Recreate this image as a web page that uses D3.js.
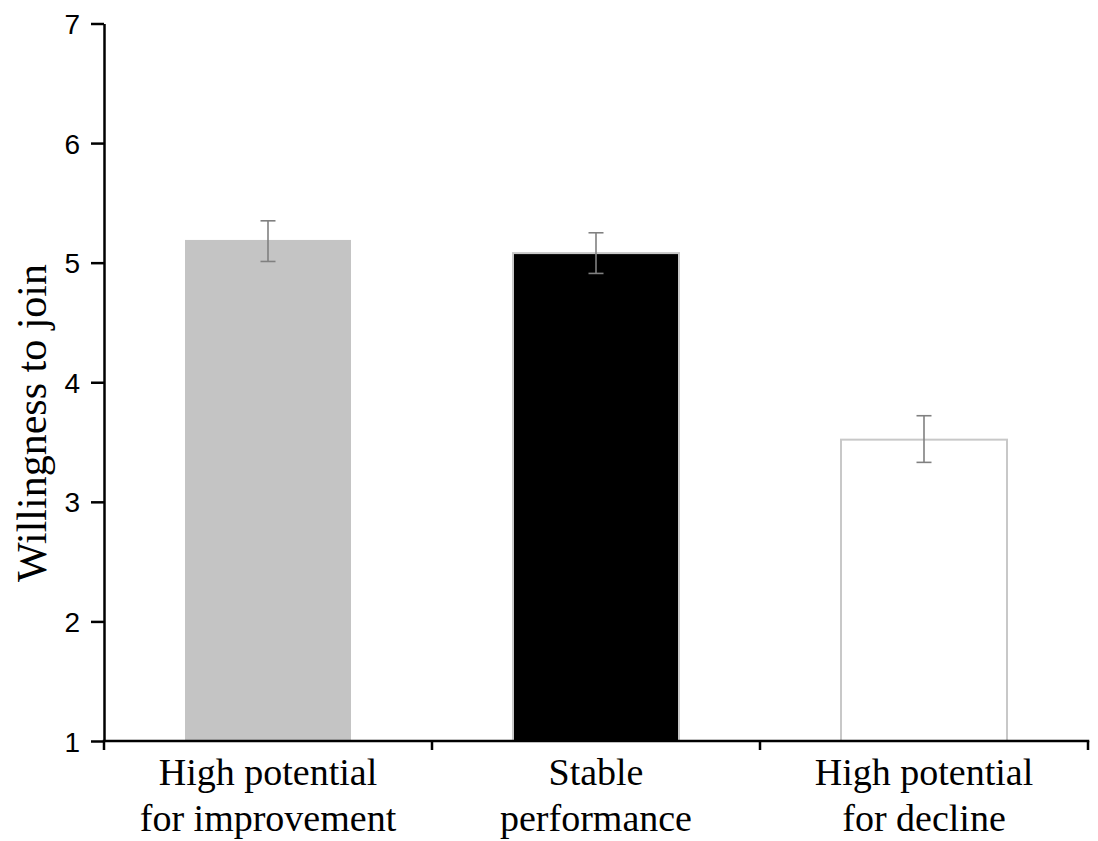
<!DOCTYPE html>
<html>
<head>
<meta charset="utf-8">
<script src="https://cdn.jsdelivr.net/npm/d3@7"></script>
<style>
  body { margin: 0; background: #fff; }
</style>
</head>
<body>
<div id="chart"></div>
<script>
// data
const categories = ["High potential|for improvement", "Stable|performance", "High potential|for decline"];
const means = [5.19, 5.08, 3.52];
const errLow = [5.01, 4.91, 3.33];
const errHigh = [5.35, 5.25, 3.72];
const barFills = ["#c4c4c4", "#000000", "#ffffff"];
const barStrokes = ["none", "#c8c8c8", "#c8c8c8"];
const yTicks = [1, 2, 3, 4, 5, 6, 7];

const width = 1098;
const height = 841;

const svg = d3.select("#chart")
    .append("svg")
    .attr("width", width)
    .attr("height", height);

const x = d3.scaleBand()
    .domain(categories)
    .range([104, 1088])
    .paddingInner(0)
    .paddingOuter(0);

const y = d3.scaleLinear()
    .domain([1, 7])
    .range([741, 23.5]);

const barW = 166;

// bars
svg.selectAll("rect.bar")
    .data(categories)
    .enter().append("rect")
    .attr("class", "bar")
    .attr("x", (d) => x(d) + x.bandwidth() / 2 - barW / 2)
    .attr("y", (d, i) => y(means[i]))
    .attr("width", barW)
    .attr("height", (d, i) => y(1) - y(means[i]))
    .style("fill", (d, i) => barFills[i])
    .style("stroke", (d, i) => barStrokes[i])
    .style("stroke-width", 2);

// error bars
const capW = 15;
const eb = svg.selectAll("g.err")
    .data(categories)
    .enter().append("g")
    .attr("class", "err")
    .style("stroke", "#808080")
    .style("stroke-width", 1.6);
eb.append("line")
    .attr("x1", (d) => x(d) + x.bandwidth() / 2)
    .attr("x2", (d) => x(d) + x.bandwidth() / 2)
    .attr("y1", (d, i) => y(errLow[i]))
    .attr("y2", (d, i) => y(errHigh[i]));
eb.append("line")
    .attr("x1", (d) => x(d) + x.bandwidth() / 2 - capW / 2)
    .attr("x2", (d) => x(d) + x.bandwidth() / 2 + capW / 2)
    .attr("y1", (d, i) => y(errHigh[i]))
    .attr("y2", (d, i) => y(errHigh[i]));
eb.append("line")
    .attr("x1", (d) => x(d) + x.bandwidth() / 2 - capW / 2)
    .attr("x2", (d) => x(d) + x.bandwidth() / 2 + capW / 2)
    .attr("y1", (d, i) => y(errLow[i]))
    .attr("y2", (d, i) => y(errLow[i]));

// y axis
const yAxis = svg.append("g")
    .attr("transform", "translate(104,0)")
    .call(d3.axisLeft(y).tickValues(yTicks).tickSize(13).tickSizeOuter(0).tickPadding(11).tickFormat(d3.format("d")));
yAxis.attr("font-size", 28).attr("font-family", "Arial, 'Liberation Sans', sans-serif");
yAxis.select(".domain").attr("stroke", "#000").attr("stroke-width", 2.5);
yAxis.selectAll(".tick line").attr("stroke", "#000").attr("stroke-width", 2.5);
yAxis.selectAll(".tick text")
    .attr("font-size", 28)
    .attr("dy", "0.36em")
    .attr("fill", "#000");

// x axis: ticks at band edges
const xEdges = categories.map((d) => x(d)).concat([x(categories[categories.length - 1]) + x.bandwidth()]);
const xAxisG = svg.append("g").attr("transform", "translate(0,741)");
xAxisG.append("line")
    .attr("x1", 104 - 1.25).attr("x2", 1088 + 1.25)
    .attr("y1", 0).attr("y2", 0)
    .attr("stroke", "#000").attr("stroke-width", 2.5);
xAxisG.selectAll("line.xt")
    .data(xEdges)
    .enter().append("line")
    .attr("class", "xt")
    .attr("x1", (d) => d).attr("x2", (d) => d)
    .attr("y1", 0).attr("y2", 9)
    .attr("stroke", "#000").attr("stroke-width", 2.5);

// category labels
const labels = xAxisG.selectAll("text.cat")
    .data(categories)
    .enter().append("text")
    .attr("class", "cat")
    .attr("text-anchor", "middle")
    .attr("font-family", "'Liberation Serif', 'Times New Roman', serif")
    .attr("font-size", 38)
    .attr("fill", "#000");
labels.each(function (d) {
    const t = d3.select(this);
    d.split("|").forEach((line, k) => {
        t.append("tspan")
            .attr("x", x(d) + x.bandwidth() / 2)
            .attr("y", 44 + k * 46)
            .text(line);
    });
});

// y title
svg.append("text")
    .attr("transform", "translate(46,423) rotate(-90)")
    .attr("text-anchor", "middle")
    .attr("font-family", "'Liberation Serif', 'Times New Roman', serif")
    .attr("font-size", 42)
    .attr("fill", "#000")
    .text("Willingness to join");
</script>
</body>
</html>
